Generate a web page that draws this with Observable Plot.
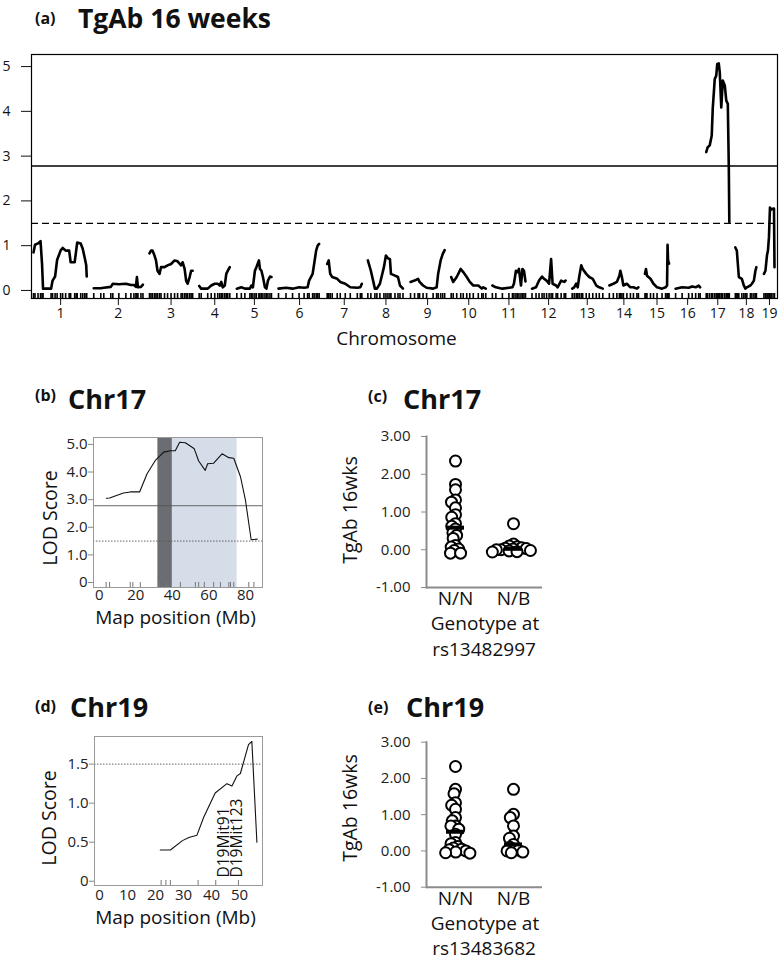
<!DOCTYPE html>
<html><head><meta charset="utf-8">
<script src="https://cdn.jsdelivr.net/npm/d3@7"></script>
<script src="https://cdn.jsdelivr.net/npm/@observablehq/plot@0.6"></script>
<style>
body{margin:0;background:#fff;}
#fig{position:relative;width:779px;height:962px;font-family:"Open Sans",sans-serif;color:#111;overflow:hidden;background:#fff}
.abs{position:absolute;white-space:nowrap;line-height:1}
.panel{position:absolute}
.panel svg{display:block}
</style></head><body><div id="fig"></div><script>
// ---------- DATA ----------
// Panel (a): genome scan, LOD per chromosome (local position, LOD)
const chromNames = ["1","2","3","4","5","6","7","8","9","10","11","12","13","14","15","16","17","18","19"];
const chromLen = [108, 98, 88, 62, 72, 84, 70, 72, 70, 70, 66, 68, 62, 60, 48, 50, 46, 44, 24];
const GAP = 12;
const lod1 = [[0,0.85],[3,1.02],[9,1.05],[14,1.10],[17,0.59],[19,0.04],[35,0.04],[38,0.22],[43,0.31],[47,0.68],[54,0.89],[58,0.95],[64,0.89],[71,0.89],[74,0.63],[82,0.63],[85,0.89],[87,1.07],[94,1.05],[98,0.93],[102,0.73],[105,0.56],[106,0.31]];
const lod2 = [[0,0.05],[14,0.05],[20,0.06],[34,0.08],[38,0.15],[50,0.14],[64,0.15],[74,0.12],[80,0.12],[84,0.08],[86,0.30],[88,0.07],[94,0.08],[98,0.13]];
const lod3 = [[1,0.83],[4,0.89],[7,0.89],[11,0.78],[14,0.67],[17,0.44],[21,0.37],[24,0.52],[31,0.52],[37,0.56],[44,0.59],[51,0.67],[57,0.65],[64,0.56],[67,0.63],[71,0.48],[74,0.22],[77,0.15],[81,0.30],[84,0.44],[87,0.44]];
const lod4 = [[0,0.10],[4,0.04],[17,0.04],[24,0.11],[31,0.15],[37,0.15],[41,0.11],[44,0.19],[47,0.07],[51,0.11],[54,0.37],[57,0.44],[61,0.52]];
const lod5 = [[1,0.04],[10,0.07],[17,0.04],[27,0.04],[30,0.11],[33,0.07],[37,0.44],[40,0.52],[45,0.67],[47,0.48],[50,0.44],[53,0.30],[57,0.07],[60,0.04],[63,0.22],[67,0.31],[70,0.30]];
const lod6 = [[0,0.04],[15,0.06],[28,0.04],[41,0.07],[51,0.06],[58,0.07],[61,0.22],[68,0.37],[71,0.59],[75,0.89],[78,1.00],[81,1.04]];
const lod7 = [[1,0.59],[4,0.67],[7,0.37],[11,0.30],[21,0.26],[27,0.19],[37,0.15],[47,0.07],[61,0.06],[67,0.07],[70,0.15]];
const lod8 = [[0,0.67],[6,0.44],[14,0.04],[18,0.04],[24,0.15],[32,0.52],[36,0.78],[40,0.72],[44,0.70],[46,0.37],[54,0.33],[60,0.30],[64,0.11],[70,0.04]];
const lod9 = [[1,0.19],[9,0.22],[16,0.26],[19,0.19],[26,0.11],[33,0.06],[46,0.04],[53,0.07],[56,0.37],[61,0.67],[65,0.81],[69,0.90]];
const lod10 = [[0,0.30],[4,0.19],[11,0.30],[19,0.48],[24,0.41],[31,0.30],[37,0.19],[44,0.11],[54,0.11],[61,0.04],[64,0.07],[69,0.04]];
const lod11 = [[0,0.11],[7,0.07],[20,0.04],[33,0.06],[40,0.07],[43,0.15],[47,0.44],[50,0.41],[53,0.48],[57,0.11],[60,0.48],[63,0.44],[66,0.20]];
const lod12 = [[1,0.04],[9,0.07],[15,0.22],[21,0.31],[25,0.26],[30,0.22],[35,0.15],[39,0.70],[42,0.15],[49,0.11],[52,0.07],[59,0.22],[65,0.19],[68,0.22]];
const lod13 = [[1,0.04],[5,0.07],[9,0.15],[12,0.07],[15,0.30],[19,0.56],[22,0.48],[29,0.37],[35,0.30],[42,0.26],[49,0.11],[55,0.07],[62,0.04]];
const lod14 = [[1,0.11],[9,0.15],[16,0.19],[21,0.33],[23,0.44],[26,0.30],[29,0.11],[36,0.15],[43,0.07],[49,0.07],[56,0.04],[59,0.07]];
const lod15 = [[0,0.37],[2,0.48],[4,0.33],[11,0.26],[17,0.15],[24,0.07],[34,0.04],[41,0.07],[44,0.11],[45,1.02],[46,0.67],[48,0.60]];
const lod16 = [[1,0.04],[14,0.07],[27,0.06],[34,0.09],[41,0.07],[47,0.11],[50,0.07]];
const lod17 = [[0,3.09],[3,3.20],[7,3.24],[11,3.46],[13,4.06],[17,4.72],[20,4.80],[22,5.06],[25,5.07],[27,4.87],[30,4.09],[31,4.28],[33,4.69],[37,4.58],[40,4.24],[43,4.17],[45,2.75],[46,1.53]];
const lod18 = [[0,0.96],[3,0.89],[5,0.59],[7,0.30],[13,0.26],[17,0.11],[20,0.04],[23,0.07],[30,0.11],[33,0.15],[37,0.22],[40,0.44],[42,0.52]];
const lod19 = [[1,0.37],[4,0.44],[7,0.78],[9,0.89],[11,1.19],[13,1.85],[15,1.80],[17,1.82],[21,1.83],[22,0.52]];
const thrSig = 2.78;   // solid threshold
const thrSugg = 1.5;   // dashed threshold
const yTicksA = [0,1,2,3,4,5];

// Panel (b): Chr17 LOD vs map position (Mb)
const chr17Mb  = [3.9, 5.7, 13.3, 17, 22.1, 26.2, 30.7, 35.3, 38.9, 41.6, 44, 47.1, 49.8, 52, 54.4, 58, 59.3, 62.6, 67.2, 70.9, 73.6, 77.3, 80, 83.1, 86.4];
const chr17Lod = [3.05, 3.06, 3.24, 3.28, 3.28, 3.94, 4.42, 4.72, 4.77, 4.77, 5.08, 5.06, 4.94, 4.84, 4.40, 4.06, 4.30, 4.32, 4.66, 4.52, 4.50, 3.82, 2.97, 1.55, 1.57];
const chr17Markers = [3.8, 5.7, 17, 18.4, 22.5, 33, 37, 44.4, 52.6, 54.4, 57.5, 62.6, 66.3, 70.9, 71.8, 73.6, 81.8, 84.6];
const peakInterval = [32.1, 40.0];
const ciInterval = [40.0, 75.4];
const xTicksB = [0,20,40,60,80];

// Panel (d): Chr19
const chr19Mb  = [21.7, 25.3, 29.6, 31.9, 34.8, 37.2, 41.3, 45.5, 47.3, 49.1, 50.3, 53.2, 54.4, 56.2];
const chr19Lod = [0.40, 0.40, 0.52, 0.56, 0.59, 0.82, 1.13, 1.25, 1.22, 1.35, 1.38, 1.75, 1.79, 0.50];
const chr19Markers = [22, 23.7, 25.3, 35.2, 41.5, 49.6];
const chr19MarkerNames = ["D19Mit91", "D19Mit123"];
const chr19MarkerPos = [46.3, 51.0];
const xTicksD = [0,10,20,30,40,50];
const yTicksD = [0,0.5,1,1.5];

// Panels (c),(e): TgAb 16wks by genotype
const genotypes = ["N/N", "N/B"];
const c_NN = [2.35, 1.73, 1.59, 1.32, 1.26, 1.11, 0.93, 0.86, 0.69, 0.62, 0.55, 0.45, 0.38, 0.30, 0.11, 0.07, 0.02, -0.02, -0.09, -0.09];
const c_NB = [0.69, 0.15, 0.10, 0.08, 0.05, 0.04, 0.03, 0.02, 0.00, 0.00, -0.02, -0.03, -0.05, -0.06];
const e_NN = [2.33, 1.70, 1.58, 1.33, 1.26, 1.15, 0.92, 0.83, 0.69, 0.69, 0.60, 0.46, 0.23, 0.20, 0.12, 0.08, 0.05, 0.03, 0.00, -0.03, -0.05, -0.06];
const e_NB = [1.70, 1.01, 0.92, 0.69, 0.41, 0.35, 0.18, 0.10, 0.05, 0.02, 0.00, -0.03, -0.05];
const yTicksCE = [-1,0,1,2,3];

// ---------- HELPERS ----------
const fig = document.getElementById("fig");
const FONT = "'Open Sans', sans-serif";
const baseStyle = {fontFamily: FONT, color: "#111", background: "transparent", overflow: "visible"};
function place(el, left, top){
  const w = document.createElement("div"); w.className = "panel";
  w.style.left = left + "px"; w.style.top = top + "px";
  w.appendChild(el); fig.appendChild(w);
}
function txt(s, x, y, size, o = {}){
  const d = document.createElement("div"); d.className = "abs"; d.textContent = s;
  d.style.fontSize = size + "px"; d.style.fontWeight = o.bold ? 700 : 400;
  if (o.rotate){
    d.style.left = x + "px"; d.style.top = y + "px";
    d.style.transform = "translate(-50%,-50%) rotate(-90deg)";
  } else {
    d.style.top = (y - 0.888 * size) + "px";
    d.style.left = x + "px";
    if (o.middle) d.style.transform = "translateX(-50%)";
  }
  fig.appendChild(d);
}

// ---------- PANEL (a) ----------
const lodByChr = [lod1,lod2,lod3,lod4,lod5,lod6,lod7,lod8,lod9,lod10,lod11,lod12,lod13,lod14,lod15,lod16,lod17,lod18,lod19];
const starts = []; let acc = 0;
chromLen.forEach(L => { starts.push(acc); acc += L + GAP; });
const total = acc - GAP;
const rowsA = lodByChr.flatMap((arr, i) => arr.map(([p, v]) => ({chr: chromNames[i], x: starts[i] + p, lod: v})));
const mids = chromLen.map((L, i) => starts[i] + L / 2);
const midName = new Map(mids.map((m, i) => [m, chromNames[i]]));

place(Plot.plot({
  width: 779, height: 310, marginLeft: 31, marginRight: 2, marginTop: 14, marginBottom: 52,
  style: baseStyle,
  x: {domain: [-4, total + 4]}, y: {domain: [-0.18, 5.27]},
  marks: [
    Plot.ruleY([thrSig], {stroke: "#000", strokeWidth: 1.3}),
    Plot.ruleY([thrSugg], {stroke: "#000", strokeWidth: 1.3, strokeDasharray: "7,4"}),
    Plot.line(rowsA, {x: "x", y: "lod", z: "chr", stroke: "#000", strokeWidth: 2.6}),
    Plot.tickX(rowsA, {x: "x", insetTop: 239, stroke: "#000", strokeWidth: 1.6}),
    Plot.frame({stroke: "#000", strokeWidth: 1.2}),
    Plot.axisY(yTicksA, {tickSize: 10, tickPadding: 11, fontSize: 14, label: null}),
    Plot.axisX(mids, {tickSize: 7, tickPadding: 3, fontSize: 14, tickFormat: d => midName.get(d), label: null})
  ]
}), 0, 40);

// ---------- PANEL (b) ----------
const rowsB = chr17Mb.map((m, i) => ({mb: m, lod: chr17Lod[i]}));
place(Plot.plot({
  width: 270, height: 200, marginLeft: 93, marginRight: 8, marginTop: 7, marginBottom: 43,
  style: baseStyle,
  x: {domain: [-3.1, 89.3]}, y: {domain: [-0.18, 5.25]},
  marks: [
    Plot.rect([ciInterval], {x1: d => d[0], x2: d => d[1], fill: "#d5dde9"}),
    Plot.rect([peakInterval], {x1: d => d[0], x2: d => d[1], fill: "#6b6d72"}),
    Plot.ruleY([thrSig], {stroke: "#555", strokeWidth: 0.9}),
    Plot.ruleY([thrSugg], {stroke: "#555", strokeWidth: 0.9, strokeDasharray: "1.5,1.5"}),
    Plot.line(rowsB, {x: "mb", y: "lod", stroke: "#111", strokeWidth: 1.1}),
    Plot.tickX(chr17Markers, {x: d => d, insetTop: 145, stroke: "#777"}),
    Plot.frame({stroke: "#9a9a9a"}),
    Plot.axisY(yTicksA, {tickSize: 5, tickPadding: 1, fontSize: 15, stroke: "#888", fill: "#222", tickFormat: d => d === 0 ? "0" : d.toFixed(1), label: null}),
    Plot.axisX(xTicksB, {tickSize: 0, tickPadding: 2, fontSize: 15, fill: "#222", label: null})
  ]
}), 0, 430);

// ---------- PANEL (d) ----------
const rowsD = chr19Mb.map((m, i) => ({mb: m, lod: chr19Lod[i]}));
const mkD = chr19MarkerNames.map((n, i) => ({name: n, pos: chr19MarkerPos[i]}));
place(Plot.plot({
  width: 270, height: 205, marginLeft: 94, marginRight: 8, marginTop: 8, marginBottom: 48,
  style: baseStyle,
  x: {domain: [-1.8, 58.2]}, y: {domain: [-0.055, 1.854]},
  marks: [
    Plot.ruleY([thrSugg], {stroke: "#555", strokeWidth: 0.9, strokeDasharray: "1.5,1.5"}),
    Plot.line(rowsD, {x: "mb", y: "lod", stroke: "#111", strokeWidth: 1.1}),
    Plot.tickX(chr19Markers, {x: d => d, insetTop: 144, stroke: "#777"}),
    Plot.text(mkD, {x: "pos", text: "name", frameAnchor: "bottom", dy: -8, rotate: -90, textAnchor: "start", fontSize: 15.5, fill: "#111"}),
    Plot.frame({stroke: "#9a9a9a"}),
    Plot.axisY(yTicksD, {tickSize: 5, tickPadding: 1, fontSize: 15, stroke: "#888", fill: "#222", tickFormat: d => d === 0 ? "0" : d.toFixed(1), label: null}),
    Plot.axisX(xTicksD, {tickSize: 0, tickPadding: 4, fontSize: 15, fill: "#222", label: null})
  ]
}), 0, 728);

// ---------- PANELS (c), (e) ----------
function scatter(nn, nb, height, marginTop, marginBottom){
  const data = [...nn.map(v => ({g: genotypes[0], v})), ...nb.map(v => ({g: genotypes[1], v}))];
  return Plot.plot({
    width: 232, height, marginLeft: 95, marginRight: 20, marginTop, marginBottom,
    style: baseStyle,
    facet: {data, x: "g"},
    fx: {domain: genotypes, padding: 0},
    y: {domain: [-1, 3]},
    marks: [
      Plot.ruleY([-1], {stroke: "#8c8c8c", strokeWidth: 2}),
      Plot.frame({anchor: "left", facetAnchor: "left", stroke: "#8c8c8c", strokeWidth: 2}),
      Plot.dot(data, Plot.dodgeX({anchor: "middle", r: 2.3, padding: 0}, {y: "v", r: 5.5, fill: "white", stroke: "#000", strokeWidth: 2})),
      Plot.tickY(data, Plot.groupZ({y: "median"}, {y: "v", stroke: "#000", strokeWidth: 4, insetLeft: 20, insetRight: 20})),
      Plot.axisY(yTicksCE, {tickSize: 5, tickPadding: 11, fontSize: 15, stroke: "#8c8c8c", fill: "#222", tickFormat: d => d.toFixed(2), label: null}),
      Plot.axisFx({anchor: "bottom", tickSize: 0, tickPadding: 4.4, fontSize: 19, fill: "#111", label: null})
    ]
  });
}
place(scatter(c_NN, c_NB, 200, 16, 33), 330, 420);
place(scatter(e_NN, e_NB, 195, 16.7, 33.3), 330, 725);

// ---------- TEXT ----------
txt("(a)", 35, 24, 16, {bold: true});
txt("TgAb 16 weeks", 78, 28.4, 26.5, {bold: true});
txt("Chromosome", 396.5, 346, 19, {middle: true});
txt("(b)", 35, 401, 16, {bold: true});
txt("Chr17", 68, 409, 27, {bold: true});
txt("(c)", 368, 402, 16, {bold: true});
txt("Chr17", 403, 409, 27, {bold: true});
txt("(d)", 35, 712, 16, {bold: true});
txt("Chr19", 70, 717, 27, {bold: true});
txt("(e)", 368, 713, 16, {bold: true});
txt("Chr19", 406, 717, 27, {bold: true});
txt("LOD Score", 50, 518, 19.5, {rotate: true});
txt("LOD Score", 48.5, 818, 19.5, {rotate: true});
txt("Map position (Mb)", 175.5, 625, 19, {middle: true});
txt("Map position (Mb)", 175.5, 925, 19, {middle: true});
txt("TgAb 16wks", 350, 509.5, 19.5, {rotate: true});
txt("TgAb 16wks", 350, 807.5, 19.5, {rotate: true});
txt("Genotype at", 485, 631, 19, {middle: true});
txt("rs13482997", 484, 657, 19, {middle: true});
txt("Genotype at", 485, 930.5, 19, {middle: true});
txt("rs13483682", 484, 956.3, 19, {middle: true});
</script></body></html>
